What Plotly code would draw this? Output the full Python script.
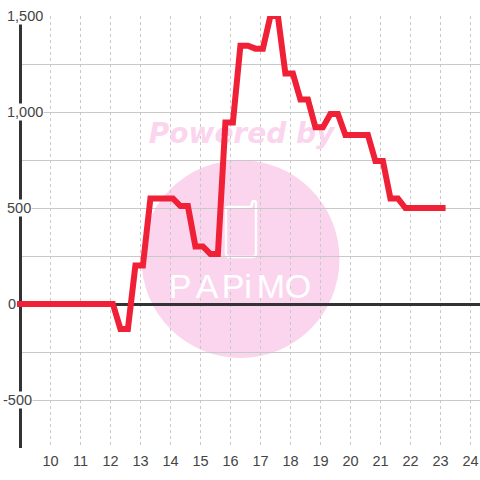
import plotly.graph_objects as go

hours = [8.9, 12.08, 12.33, 12.58, 12.83, 13.08, 13.33, 14.08, 14.33, 14.58, 14.83, 15.08, 15.33, 15.58,
         15.83, 16.08, 16.33, 16.58, 16.83, 17.08, 17.33, 17.58, 17.83, 18.08, 18.33, 18.58, 18.83, 19.08,
         19.33, 19.58, 19.83, 20.58, 20.83, 21.08, 21.33, 21.58, 21.83, 23.17]
values = [0, 0, -130, -130, 200, 200, 550, 550, 510, 510, 300, 300, 260, 260,
          945, 945, 1345, 1345, 1330, 1330, 1500, 1500, 1200, 1200, 1065, 1065, 920, 920,
          990, 990, 880, 880, 745, 745, 550, 550, 500, 500]
x_ticks = list(range(10, 25))
y_grid = [-750, -500, -250, 0, 250, 500, 750, 1000, 1250, 1500]
y_labels = ["1,500", "1,000", "500", "0", "-500"]
y_label_values = [1500, 1000, 500, 0, -500]
logo_letters = ["P", "A", "P", "i", "M", "O"]

W, H = 480, 480
L, R, T, B = 22, 0, 16, 32
PINK = "#fbd5ee"
RED = "#f02036"
GREY = "#c8c8c8"
DARK = "#333333"
INK = "#444444"


def data_x(px):
    return 10 + (px - 50.5) / 30


def data_y(py):
    return (304 - py) * 1500 / 288


def paper_x(px):
    return (px - L) / (W - L - R)


def paper_y(py):
    return 1 - (py - T) / (H - T - B)


fig = go.Figure()

fig.add_trace(go.Scatter(
    x=[data_x(241.5)], y=[data_y(136)], mode="text", text=["Powered by"],
    textposition="middle center", cliponaxis=False, hoverinfo="skip",
    textfont=dict(family="DejaVu Sans", size=28, color=PINK, weight="bold", style="italic"),
))
fig.add_trace(go.Scatter(
    x=[data_x(p) for p in (180, 207, 233, 248, 271, 298)], y=[data_y(289)] * 6,
    mode="text", text=logo_letters, textposition="middle center", cliponaxis=False, hoverinfo="skip",
    textfont=dict(family="Liberation Sans", size=34, color="#ffffff"),
))
fig.add_trace(go.Scatter(
    x=hours, y=values, mode="lines", cliponaxis=False, hoverinfo="skip",
    line=dict(color=RED, width=6, shape="linear"),
))

fig.add_shape(type="circle", xref="paper", yref="paper", layer="below",
              x0=paper_x(141.5), x1=paper_x(339.5), y0=paper_y(358), y1=paper_y(160),
              fillcolor=PINK, line_width=0)


def pt(px, py):
    return f"{paper_x(px):.5f},{paper_y(py):.5f}"


phone = (f"M {pt(228, 207)} L {pt(250, 207)} Q {pt(252, 207)} {pt(252, 204)} "
         f"Q {pt(252, 201)} {pt(254, 201)} Q {pt(256, 201)} {pt(256, 204)} "
         f"L {pt(256, 253)} Q {pt(256, 257)} {pt(252, 257)} L {pt(230, 257)} "
         f"Q {pt(226, 257)} {pt(226, 253)} L {pt(226, 209)} Q {pt(226, 207)} {pt(228, 207)} Z")
fig.add_shape(type="path", xref="paper", yref="paper", layer="below", path=phone,
              line=dict(color="#ffffff", width=2.4), fillcolor="rgba(0,0,0,0)")

# The line's first stretch begins just left of the axis; Plotly crops a trace at the plot edge.
fig.add_shape(type="line", xref="paper", yref="paper", layer="above",
              x0=paper_x(17), x1=paper_x(26), y0=paper_y(304), y1=paper_y(304),
              line=dict(color=RED, width=6))

for label, value in zip(y_labels, y_label_values):
    start = {"-500": 1.5, "0": 7}.get(label, 6)
    fig.add_annotation(x=paper_x(start), y=value, xref="paper", yref="y", text=label,
                       xanchor="left", yanchor="middle", showarrow=False, align="left",
                       font=dict(family="Liberation Sans", size=14.5, color=INK),
                       bgcolor="rgba(0,0,0,0)" if label == "0" else "#ffffff",
                       borderpad=0, height=16)

fig.update_layout(
    width=W, height=H, autosize=False, showlegend=False,
    margin=dict(l=L, r=R, t=T, b=B, pad=0),
    paper_bgcolor="#ffffff", plot_bgcolor="#ffffff",
    xaxis=dict(range=[data_x(L), data_x(W - R)], tickmode="array", tickvals=x_ticks,
               ticktext=[str(t) for t in x_ticks], showgrid=True, gridcolor=GREY, gridwidth=1,
               griddash="3px,3px", zeroline=False, showline=False, ticks="", ticklabelstandoff=2,
               tickfont=dict(family="Liberation Sans", size=14.5, color=INK)),
    yaxis=dict(range=[-750, 1500], tickmode="array", tickvals=y_grid, showticklabels=False,
               showgrid=True, gridcolor=GREY, gridwidth=1, zeroline=True, zerolinecolor=DARK,
               zerolinewidth=3, showline=True, linecolor=DARK, linewidth=3, ticks="",
               layer="below traces"),
)

fig.write_html("out.html", config={"displayModeBar": False},
               post_script="document.body.style.margin='0';document.body.style.overflow='hidden';")
